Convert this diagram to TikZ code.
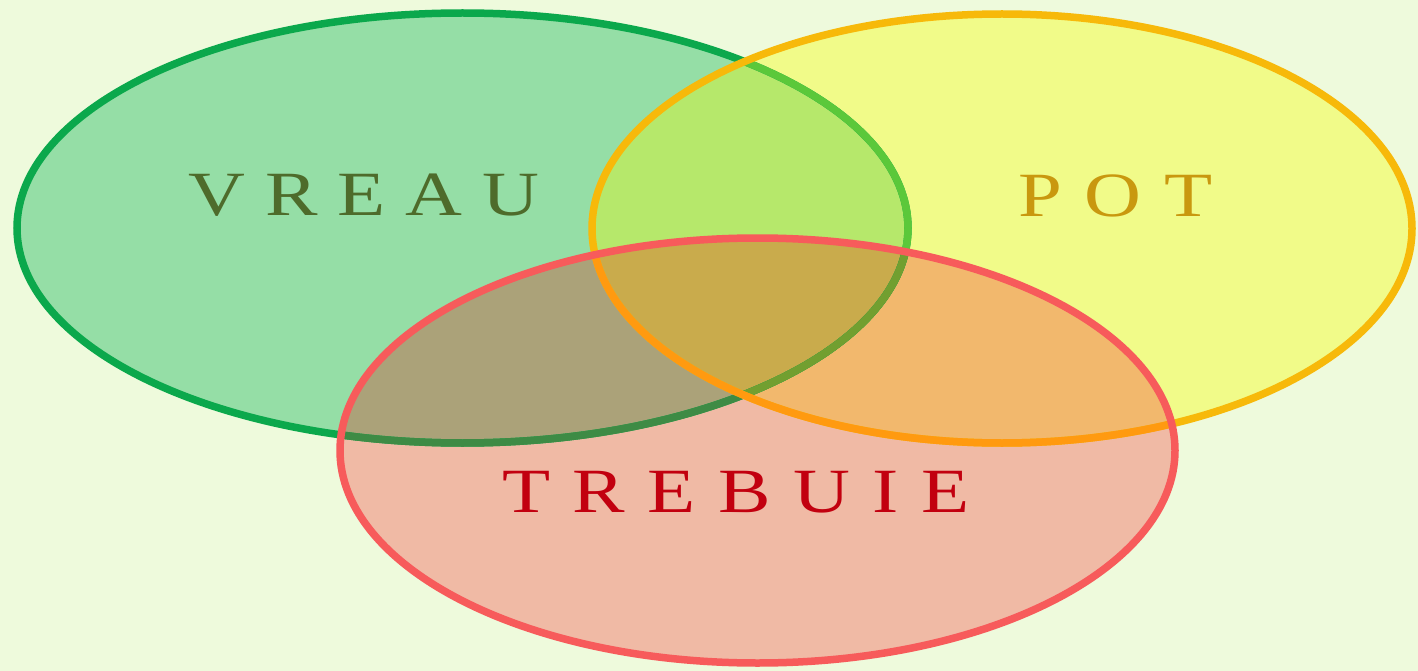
\documentclass[tikz,border=0pt]{standalone}
\usepackage{fontspec}
\setmainfont{Liberation Serif}
\definecolor{bgc}{HTML}{EEFADC}
\definecolor{gfill}{HTML}{95DEA6}
\definecolor{yfill}{HTML}{F1FB89}
\definecolor{rfill}{HTML}{F0BAA5}
\definecolor{gyfill}{HTML}{B6E86B}
\definecolor{grfill}{HTML}{ABA279}
\definecolor{yrfill}{HTML}{F2B86D}
\definecolor{gyrfill}{HTML}{C9AB4C}
\definecolor{gline}{HTML}{0BA84C}
\definecolor{glineY}{HTML}{5BC83A}
\definecolor{glineR}{HTML}{3E8B45}
\definecolor{glineYR}{HTML}{729F30}
\definecolor{yline}{HTML}{F7B90A}
\definecolor{ylineR}{HTML}{FF9A10}
\definecolor{rline}{HTML}{F75B5B}
\definecolor{tgreen}{HTML}{4E6B2B}
\definecolor{tyellow}{HTML}{C9980F}
\definecolor{tred}{HTML}{C2000F}
\newcommand\lspA{\hspace{16pt}}
\newcommand\lspB{\hspace{18.5pt}}
\newcommand\lspC{\hspace{18pt}}
\newcommand\wide[1]{\scalebox{1.25}[1]{#1}}
\def\EG{(462.5,228) ellipse [x radius=445.5pt, y radius=215pt]}
\def\EY{(1002,228.5) ellipse [x radius=410pt, y radius=214.5pt]}
\def\ER{(757.5,450.5) ellipse [x radius=417.5pt, y radius=212.5pt]}
\tikzset{
  outline/.style={line width=7.5pt},
  label/.style={inner sep=0pt, anchor=base, font=\fontsize{63}{63}\selectfont}
}
\begin{document}
\begin{tikzpicture}[x=1pt,y=-1pt]
\fill[bgc] (0,0) rectangle (1418,671);
\useasboundingbox (0,0) rectangle (1418,671);
% fills
\fill[gfill] \EG;
\fill[yfill] \EY;
\fill[rfill] \ER;
\begin{scope}\clip \EG; \fill[gyfill] \EY; \end{scope}
\begin{scope}\clip \EG; \fill[grfill] \ER; \end{scope}
\begin{scope}\clip \EY; \fill[yrfill] \ER; \end{scope}
\begin{scope}\clip \EG; \clip \EY; \fill[gyrfill] \ER; \end{scope}
% green outline
\draw[outline, gline] \EG;
\begin{scope}\clip \EY; \draw[outline, glineY] \EG; \end{scope}
\begin{scope}\clip \ER; \draw[outline, glineR] \EG; \end{scope}
\begin{scope}\clip \EY; \clip \ER; \draw[outline, glineYR] \EG; \end{scope}
% yellow outline
\draw[outline, yline] \EY;
\begin{scope}\clip \ER; \draw[outline, ylineR] \EY; \end{scope}
% red outline
\draw[outline, rline] \ER;
% labels
\node[label, text=tgreen] (vreau) at (364,215) {\wide{V\lspA R\lspA E\lspA A\lspA U}};
\node[label, text=tyellow] (pot) at (1115.5,216) {\wide{P\lspB O\lspB T}};
\node[label, text=tred] (trebuie) at (736,512) {\wide{T\lspC R\lspC E\lspC B\lspC U\lspC I\lspC E}};
\end{tikzpicture}
\end{document}
